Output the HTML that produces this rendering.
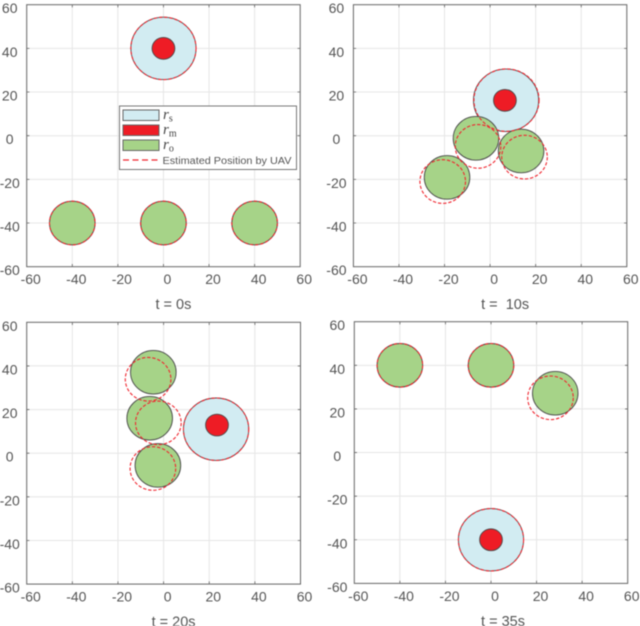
<!DOCTYPE html>
<html>
<head>
<meta charset="utf-8">
<style>
html,body{margin:0;padding:0;background:#fff;width:640px;height:626px;overflow:hidden}
svg{display:block;filter:blur(0.5px)}
text{font-family:"Liberation Sans",sans-serif;fill:#555}
.math{font-family:"Liberation Serif",serif;fill:#444}
</style>
</head>
<body>
<svg id="chart" xmlns="http://www.w3.org/2000/svg" width="640" height="626" viewBox="0 0 640 626"></svg>
<script>
// ---- data (axis units) ----
const tickValues = [-60, -40, -20, 0, 20, 40, 60];
const timeLabels = ['t = 0s', 't =  10s', 't = 20s', 't = 35s'];
const sensorRadius = 14.3;
const missileRadius = 5;
const obstacleRadius = 10;

const sensorX = [0, 7, 23, 0];
const sensorY = [40, 16.2, 11, -40];
const missileX = [0, 6.5, 23.4, 0];
const missileY = [40, 16.2, 12.9, -40];

const estSensorX = [0, 7.2, 23, 0];
const estSensorY = [40, 16.3, 11, -40];

const obstacleX = [[-40, 0, 40], [-6.2, 13.6, -18.9], [-4.5, -6.1, -2.5], [-40, 0, 28.2]];
const obstacleY = [[-40, -40, -40], [-1.2, -7, -19.1], [37.1, 16, -5.6], [40, 40, 27.2]];
const estObstacleX = [[-40, 0, 40], [-5.3, 15.1, -20.8], [-6.8, -2.3, -4.7], [-40, 0, 26.1]];
const estObstacleY = [[-40, -40, -40], [-4.9, -9.8, -21], [33.9, 13.9, -7], [40, 40, 25.1]];

// ---- layout ----
const frames = [
  {l: 26.7, r: 300.2, t: 4.7, b: 266.7, lab: 10},
  {l: 353.4, r: 626.8, t: 4.7, b: 266.7, lab: 15},
  {l: 26.7, r: 300.5, t: 322.3, b: 584.1, lab: 10},
  {l: 354.3, r: 627.7, t: 321.7, b: 583.4, lab: 12}
];

const NS = 'http://www.w3.org/2000/svg';
const svg = document.getElementById('chart');

function make(parent, tag, attrs) {
  const el = document.createElementNS(NS, tag);
  for (const k in attrs) el.setAttribute(k, attrs[k]);
  parent.appendChild(el);
  return el;
}

function scaleX(f, v) { return f.l + (v + 60) / 120 * (f.r - f.l); }
function scaleY(f, v) { return f.b - (v + 60) / 120 * (f.b - f.t); }

function ellipse(g, f, cx, cy, rad, style) {
  return make(g, 'ellipse', Object.assign({
    cx: scaleX(f, cx),
    cy: scaleY(f, cy),
    rx: rad / 120 * (f.r - f.l),
    ry: rad / 120 * (f.b - f.t)
  }, style));
}

const trueEdge = {stroke: '#4a4a4a', 'stroke-width': 0.9};
const estStyle = {fill: 'none', stroke: '#f0262f', 'stroke-width': 1.1, 'stroke-dasharray': '3.4 1.8'};

frames.forEach(function (f, p) {
  const g = make(svg, 'g', {});
  
  

  const bg = make(g, 'rect', {x: f.l, y: f.t, width: f.r - f.l, height: f.b - f.t, fill: '#fff'});
  
  

  tickValues.forEach(function (v) {
    const x = scaleX(f, v), y = scaleY(f, v);
    if (v !== -60 && v !== 60) {
      const gx = make(g, 'line', {x1: x, x2: x, y1: f.t, y2: f.b, stroke: '#e6e6e6', 'stroke-width': 1});
      
      
      const gy = make(g, 'line', {x1: f.l, x2: f.r, y1: y, y2: y, stroke: '#e6e6e6', 'stroke-width': 1});
      
      
      const tk = make(g, 'path', {
        d: 'M' + x + ' ' + f.b + 'v-2.7M' + x + ' ' + f.t + 'v2.7M' + f.l + ' ' + y + 'h2.7M' + f.r + ' ' + y + 'h-2.7',
        stroke: '#666', 'stroke-width': 0.8, fill: 'none'
      });
      
      
    }
    const xl = make(g, 'text', {x: x + 4, y: f.b + 17.5, 'text-anchor': 'middle', 'font-size': 14});
    xl.textContent = String(v);
    
    
    const yl = make(g, 'text', {x: f.l - 17, y: y + 8.5, 'text-anchor': 'middle', 'font-size': 14});
    yl.textContent = String(v);
    
    
  });

  const sensor = ellipse(g, f, sensorX[p], sensorY[p], sensorRadius, Object.assign({fill: '#d2ecf2'}, trueEdge));
  
  

  const missile = ellipse(g, f, missileX[p], missileY[p], missileRadius, Object.assign({fill: '#ee1c25'}, trueEdge));
  
  

  obstacleX[p].forEach(function (ox, i) {
    const o = ellipse(g, f, ox, obstacleY[p][i], obstacleRadius, Object.assign({fill: '#a6d388'}, trueEdge));
    
    
  });

  const es = ellipse(g, f, estSensorX[p], estSensorY[p], sensorRadius, estStyle);
  
  

  estObstacleX[p].forEach(function (ox, i) {
    const e = ellipse(g, f, ox, estObstacleY[p][i], obstacleRadius, estStyle);
    
    
  });

  const box = make(g, 'rect', {x: f.l, y: f.t, width: f.r - f.l, height: f.b - f.t, fill: 'none', stroke: '#666', 'stroke-width': 1});
  
  

  const title = make(g, 'text', {x: (f.l + f.r) / 2 + f.lab, y: f.b + 42.5, 'text-anchor': 'middle', 'font-size': 14.5});
  title.style.whiteSpace = 'pre';
  title.textContent = timeLabels[p];
  
  
});

// ---- legend ----
const legend = make(svg, 'g', {});



const legendBox = make(legend, 'rect', {x: 119.5, y: 106, width: 177, height: 63.5, fill: '#fff', stroke: '#777', 'stroke-width': 1});



const swatchFills = ['#d2ecf2', '#ee1c25', '#a6d388'];
const swatchSubs = ['s', 'm', 'o'];
swatchFills.forEach(function (c, i) {
  const y = 110 + i * 15;
  const sw = make(legend, 'rect', {x: 123, y: y, width: 36, height: 10.5, fill: c, stroke: '#666', 'stroke-width': 1});
  
  
  const t = make(legend, 'text', {x: 163, y: y + 9, 'font-size': 15, 'class': 'math'});
  
  
  const r = make(t, 'tspan', {'font-style': 'italic'});
  r.textContent = 'r';
  const s = make(t, 'tspan', {'font-size': 10, dy: 2.5});
  s.textContent = swatchSubs[i];
});

const legendLine = make(legend, 'line', {x1: 123, x2: 159, y1: 160, y2: 160, stroke: '#f0262f', 'stroke-width': 1.3, 'stroke-dasharray': '6 3.5'});



const legendText = make(legend, 'text', {x: 162.5, y: 164, 'font-size': 10, textLength: 129, lengthAdjust: 'spacingAndGlyphs'});
legendText.textContent = 'Estimated Position by UAV';


</script>
</body>
</html>
